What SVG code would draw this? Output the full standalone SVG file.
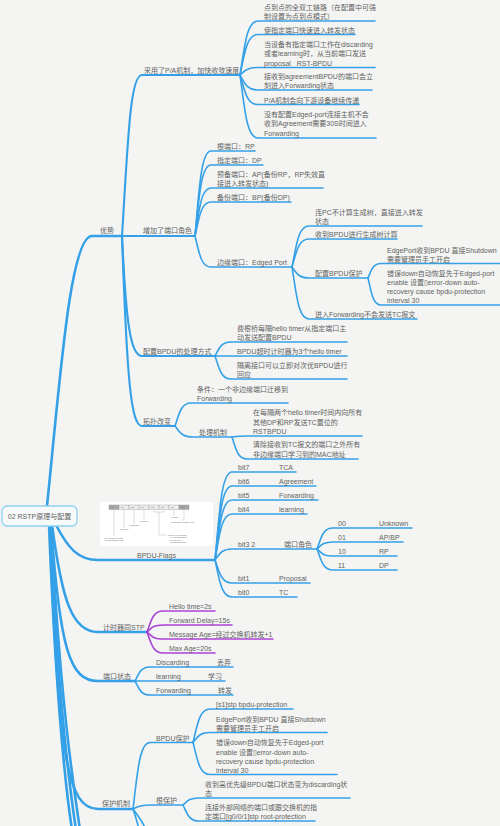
<svg xmlns="http://www.w3.org/2000/svg" width="500" height="826" viewBox="0 0 500 826">
<style>
text{font-family:"Liberation Sans","Noto Sans CJK SC","DejaVu Sans",sans-serif;font-size:7px;fill:#626262}
.c{fill:none;stroke:#34a0e7;stroke-width:1.6;stroke-linecap:round}
.t{stroke-width:2.6}
.m{stroke-width:2.1}
.p{stroke:#a943d6}
.th text{font-size:1.9px;fill:#666}
.th .l{stroke:#888;stroke-width:.3;fill:none}
</style>
<rect width="500" height="826" fill="#f4f5f3"/>
<g id="connectors">
<path class="c t" d="M47,506 C60,380 70,236 92,236 H122"/>
<path class="c t" d="M56,525 C68,548 78,560 98,560 H215"/>
<path class="c t" d="M52,525 C62,600 72,632 98,632 H147"/>
<path class="c t" d="M51,525 C60,650 70,681 98,681 H135"/>
<path class="c t" d="M50,525 C58,760 68,809 98,809 H133"/>
<path class="c t" d="M49,525 C56,700 66,790 72,830"/>
<path class="c t" d="M50,525 C58,700 70,790 76,830"/>
<path class="c t" d="M51,525 C60,700 74,790 80,830"/>
<path class="c m" d="M122,236 C128,140 130,75 142,75 H240"/>
<path class="c m" d="M122,236 H195"/>
<path class="c m" d="M122,236 C126,320 130,356 142,356 H215"/>
<path class="c m" d="M122,236 C127,380 131,426 142,426 H175"/>
<path class="c" d="M240,75 C244.5,48 246.3,21 258,21 H375"/>
<path class="c" d="M240,75 C244.5,54.8 246.3,34.5 258,34.5 H355"/>
<path class="c" d="M240,75 C244.5,71.3 246.3,67.5 258,67.5 H375"/>
<path class="c" d="M240,75 C244.5,82.5 246.3,90 258,90 H372"/>
<path class="c" d="M240,75 C244.5,89.8 246.3,104.5 258,104.5 H359"/>
<path class="c" d="M240,75 C244.5,106.5 246.3,138 258,138 H376"/>
<path class="c" d="M195,236 C199,193.5 200.6,151 211,151 H255"/>
<path class="c" d="M195,236 C199,200.5 200.6,165 211,165 H263"/>
<path class="c" d="M195,236 C199,212 200.6,188 211,188 H323"/>
<path class="c" d="M195,236 C199,219 200.6,202 211,202 H291"/>
<path class="c" d="M195,236 C199,251.5 200.6,267 211,267 H292"/>
<path class="c" d="M292,267 C296.3,246.5 298,226 309,226 H422"/>
<path class="c" d="M292,267 C296.3,253 298,239 309,239 H397"/>
<path class="c" d="M292,267 C296.3,272.5 298,278 309,278 H368"/>
<path class="c" d="M292,267 C296.3,293 298,319 309,319 H417"/>
<path class="c" d="M368,278 C371.3,270.8 372.6,263.5 381,263.5 H500"/>
<path class="c" d="M368,278 C371.3,291.5 372.6,305 381,305 H500"/>
<path class="c" d="M215,356 C219,349 220.6,342 231,342 H347"/>
<path class="c" d="M215,356 H347"/>
<path class="c" d="M215,356 C219,367.5 220.6,379 231,379 H347"/>
<path class="c" d="M175,426 C179,414.5 180.6,403 191,403 H288"/>
<path class="c" d="M175,426 C179.5,431.5 181.3,437 193,437 H232"/>
<path class="c" d="M232,437 C235.8,436.5 237.3,436 247,436 H362"/>
<path class="c" d="M232,437 C235.8,448 237.3,459 247,459 H358"/>
<path class="c" d="M215,560 C219.3,516 221,472 232,472 H296"/>
<path class="c" d="M215,560 C219.3,523 221,486 232,486 H316"/>
<path class="c" d="M215,560 C219.3,530 221,500 232,500 H318"/>
<path class="c" d="M215,560 C219.3,537 221,514 232,514 H307"/>
<path class="c" d="M215,560 C219.3,554.5 221,549 232,549 H317"/>
<path class="c" d="M215,560 C219.3,571.5 221,583 232,583 H310"/>
<path class="c" d="M215,560 C219.3,578.5 221,597 232,597 H297"/>
<path class="c" d="M317,549 C321,538.5 322.6,528 333,528 H412"/>
<path class="c" d="M317,549 C321,545.5 322.6,542 333,542 H403"/>
<path class="c" d="M317,549 C321,552.5 322.6,556 333,556 H397"/>
<path class="c" d="M317,549 C321,559.5 322.6,570 333,570 H397"/>
<path class="c p" d="M147,632 C151,621.5 152.6,611 163,611 H215"/>
<path class="c p" d="M147,632 C151,628.5 152.6,625 163,625 H232"/>
<path class="c p" d="M147,632 C151,635.5 152.6,639 163,639 H273"/>
<path class="c p" d="M147,632 C151,642.5 152.6,653 163,653 H215"/>
<path class="c" d="M135,681 C138.8,674 140.3,667 150,667 H233"/>
<path class="c" d="M135,681 H225"/>
<path class="c" d="M135,681 C138.8,688 140.3,695 150,695 H233"/>
<path class="c" d="M133,809 C137.3,775.8 139,742.5 150,742.5 H193"/>
<path class="c" d="M133,809 C137.3,807 139,805 150,805 H183"/>
<path class="c" d="M133,809 C136,818 138,824 139,830"/>
<path class="c" d="M133,809 C138,816 143,822 146,830"/>
<path class="c" d="M193,742.5 C197.3,725.8 199,709 210,709 H293"/>
<path class="c" d="M193,742.5 C197.3,737.5 199,732.5 210,732.5 H327"/>
<path class="c" d="M193,742.5 C197.3,758.5 199,774.5 210,774.5 H337"/>
<path class="c" d="M183,805 C187,801.5 188.6,798 199,798 H350"/>
<path class="c" d="M183,805 C187,813 188.6,821 199,821 H315"/>
</g>
<g id="root">
<rect x="2" y="506" width="75" height="20" rx="5" fill="#f8fafa" stroke="#8ecff2" stroke-width="1.3"/>
<text x="39.5" y="519" text-anchor="middle">02 RSTP原理与配置</text>
</g>
<g id="n-youshi"><text x="100" y="233">优势</text></g>
<g id="n-pa"><text x="144" y="72.5">采用了P/A机制，加快收敛速度</text></g>
<g id="n-a1"><text x="264" y="9.5">点到点的全双工链路（在配置中可强</text><text x="264" y="19">制设置为点到点模式）</text></g>
<g id="n-a2"><text x="264" y="32.5">使指定端口快速进入转发状态</text></g>
<g id="n-a3"><text x="264" y="46.5">当设备有指定端口工作在discarding</text><text x="264" y="56">或者learning时，从当前端口发送</text><text x="264" y="65.5" xml:space="preserve">proposal   RST-BPDU</text></g>
<g id="n-a4"><text x="264" y="78.5">接收到agreementBPDU的端口会立</text><text x="264" y="88">刻进入Forwarding状态</text></g>
<g id="n-a5"><text x="264" y="102.5">P/A机制会向下游设备继续传递</text></g>
<g id="n-a6"><text x="264" y="116.5">没有配置Edged-port连接主机不会</text><text x="264" y="126">收到Agreement需要30S时间进入</text><text x="264" y="135.5">Forwarding</text></g>
<g id="n-role"><text x="143" y="233">增加了端口角色</text></g>
<g id="n-b1"><text x="217" y="149">根端口：RP</text></g>
<g id="n-b2"><text x="217" y="163">指定端口：DP</text></g>
<g id="n-b3"><text x="217" y="176.5">预备端口：AP(备份RP，RP失效直</text><text x="217" y="186">接进入转发状态)</text></g>
<g id="n-b4"><text x="217" y="200">备份端口：BP(备份DP)</text></g>
<g id="n-b5"><text x="217" y="265">边缘端口：Edged Port</text></g>
<g id="n-e1"><text x="315" y="214.5">连PC不计算生成树，直接进入转发</text><text x="315" y="224">状态</text></g>
<g id="n-e2"><text x="315" y="237">收到BPDU进行生成树计算</text></g>
<g id="n-e3"><text x="315" y="276">配置BPDU保护</text></g>
<g id="n-e3a"><text x="387" y="252.5">EdgePort收到BPDU 直接Shutdown</text><text x="387" y="261.5">需要管理员手工开启</text></g>
<g id="n-e3b"><text x="387" y="275.5">错误down自动恢复先于Edged-port</text><text x="387" y="284.5">enable 设置▯error-down auto-</text><text x="387" y="293.5">recovery cause bpdu-protection</text><text x="387" y="303">interval 30</text></g>
<g id="n-e4"><text x="315" y="317">进入Forwarding不会发送TC报文</text></g>
<g id="n-cfg"><text x="143" y="354">配置BPDU的处理方式</text></g>
<g id="n-c1"><text x="237" y="330.5">费根桥每隔hello timer从指定端口主</text><text x="237" y="340">动发送配置BPDU</text></g>
<g id="n-c2"><text x="237" y="354">BPDU超时计时器为3个hello timer</text></g>
<g id="n-c3"><text x="237" y="367.5">隔离接口可以立即对次优BPDU进行</text><text x="237" y="377">回应</text></g>
<g id="n-topo"><text x="143" y="424">拓扑改变</text></g>
<g id="n-d1"><text x="197" y="391.5">条件：一个非边缘端口迁移到</text><text x="197" y="401">Forwarding</text></g>
<g id="n-d2"><text x="199" y="435">处理机制</text></g>
<g id="n-d2a"><text x="253" y="414.5">在每隔两个hello timer时间内向所有</text><text x="253" y="424.5">其他DP和RP发送TC置位的</text><text x="253" y="434">RSTBPDU</text></g>
<g id="n-d2b"><text x="253" y="447">清除接收到TC报文的端口之外所有</text><text x="253" y="457">非边缘端口学习到的MAC地址</text></g>
<g id="n-flags">
<g class="th">
<rect x="100" y="502" width="113" height="44" fill="#ffffff"/>
<rect x="109" y="505" width="10" height="4.5" fill="#a8a8a8" stroke="#777" stroke-width=".3"/>
<rect x="119" y="505" width="10" height="4.5" fill="#eeeeee" stroke="#777" stroke-width=".3"/>
<rect x="129" y="505" width="10" height="4.5" fill="#eeeeee" stroke="#777" stroke-width=".3"/>
<rect x="139" y="505" width="10" height="4.5" fill="#eeeeee" stroke="#777" stroke-width=".3"/>
<rect x="149" y="505" width="10" height="4.5" fill="#eeeeee" stroke="#777" stroke-width=".3"/>
<rect x="159" y="505" width="10" height="4.5" fill="#eeeeee" stroke="#777" stroke-width=".3"/>
<rect x="169" y="505" width="10" height="4.5" fill="#eeeeee" stroke="#777" stroke-width=".3"/>
<rect x="179" y="505" width="10" height="4.5" fill="#a8a8a8" stroke="#777" stroke-width=".3"/>
<text x="111" y="508">bit7</text><text x="121" y="508">bit6</text><text x="131" y="508">bit5</text><text x="141" y="508">bit4</text><text x="151" y="508">bit3</text><text x="161" y="508">bit2</text><text x="171" y="508">bit1</text><text x="181" y="508">bit0</text>
<path class="l" d="M114,509.5 V536 M124,509.5 V528 M134,509.5 V524 M144,509.5 V520 M154,510.5 V512 H164 V510.5 M159,512 V535 H167 M174,509.5 V516 M184,509.5 V520 H182"/>
<text x="104" y="538.5">TCA(Topology Change</text><text x="104" y="541">Acknowledgment) Flag</text>
<text x="119" y="530">Agreement</text>
<text x="129" y="526">Forwarding</text>
<text x="140" y="522">Learning</text>
<text x="168" y="535.5">Port role: 00 Unknown</text><text x="170" y="538">01 Alternate/Backup</text><text x="170" y="540.5">10 Root port</text><text x="170" y="543">11 Designated port</text>
<text x="171" y="518">Proposal</text>
<text x="171" y="522.5">TC(Topology Change) Flag</text>
</g>
<text x="137" y="558">BPDU-Flags</text>
</g>
<g id="n-bit7"><text x="238" y="470">bit7</text><text x="279" y="470">TCA</text></g>
<g id="n-bit6"><text x="238" y="484">bit6</text><text x="279" y="484">Agreement</text></g>
<g id="n-bit5"><text x="238" y="498">bit5</text><text x="279" y="498">Forwarding</text></g>
<g id="n-bit4"><text x="238" y="512">bit4</text><text x="279" y="512">learning</text></g>
<g id="n-bit32"><text x="238" y="547">bit3 2</text><text x="284" y="547">端口角色</text></g>
<g id="n-bit1"><text x="238" y="581">bit1</text><text x="279" y="581">Proposal</text></g>
<g id="n-bit0"><text x="238" y="595">bit0</text><text x="279" y="595">TC</text></g>
<g id="n-r00"><text x="338" y="526">00</text><text x="379" y="526">Unknown</text></g>
<g id="n-r01"><text x="338" y="540">01</text><text x="379" y="540">AP/BP</text></g>
<g id="n-r10"><text x="338" y="554">10</text><text x="379" y="554">RP</text></g>
<g id="n-r11"><text x="338" y="568">11</text><text x="379" y="568">DP</text></g>
<g id="n-timer"><text x="103" y="630">计时器同STP</text></g>
<g id="n-t1"><text x="169" y="609">Hello time=2s</text></g>
<g id="n-t2"><text x="169" y="623">Forward Delay=15s</text></g>
<g id="n-t3"><text x="169" y="637">Message Age=经过交换机转发+1</text></g>
<g id="n-t4"><text x="169" y="651">Max Age=20s</text></g>
<g id="n-state"><text x="103" y="679">端口状态</text></g>
<g id="n-s1"><text x="156" y="665">Discarding</text><text x="217" y="665">丢弃</text></g>
<g id="n-s2"><text x="156" y="679">learning</text><text x="208" y="679">学习</text></g>
<g id="n-s3"><text x="156" y="693">Forwarding</text><text x="218" y="693">转发</text></g>
<g id="n-protect"><text x="102" y="806">保护机制</text></g>
<g id="n-bpdup"><text x="156" y="740.5">BPDU保护</text></g>
<g id="n-bp1"><text x="216" y="707">[s1]stp bpdu-protection</text></g>
<g id="n-bp2"><text x="216" y="721.5">EdgePort收到BPDU 直接Shutdown</text><text x="216" y="730.5">需要管理员手工开启</text></g>
<g id="n-bp3"><text x="216" y="744.5">错误down自动恢复先于Edged-port</text><text x="216" y="754.5">enable 设置▯error-down auto-</text><text x="216" y="763.5">recovery cause bpdu-protection</text><text x="216" y="772.5">interval 30</text></g>
<g id="n-rootp"><text x="156" y="803">根保护</text></g>
<g id="n-rp1"><text x="205" y="786.5">收到高优先级BPDU端口状态变为discarding状</text><text x="205" y="795.5">态</text></g>
<g id="n-rp2"><text x="205" y="809.5">连接外部网络的端口或跟交换机的指</text><text x="205" y="818.5">定端口[g0/0/1]stp root-protection</text></g>
</svg>
